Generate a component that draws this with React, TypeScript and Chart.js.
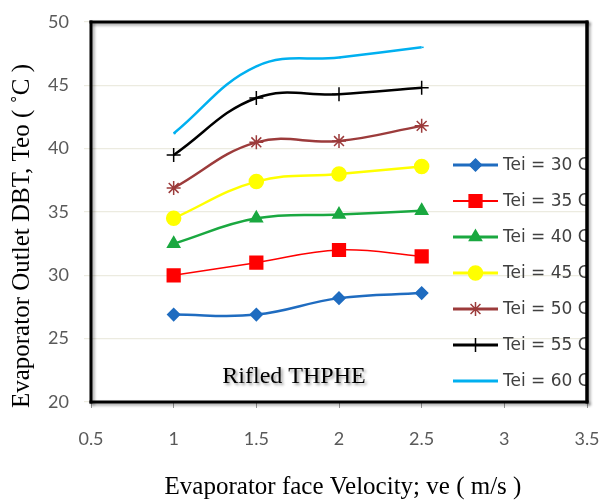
import React, { useEffect, useRef } from "react";
import { Chart, registerables } from "chart.js";
import { drawPoint } from "chart.js/helpers";

Chart.register(...registerables);

const velocities = [1, 1.5, 2, 2.5];
const seriesLabels = ["Tei = 30 C", "Tei = 35 C", "Tei = 40 C", "Tei = 45 C", "Tei = 50 C", "Tei = 55 C", "Tei = 60 C"];
const tei30 = [26.9, 26.9, 28.2, 28.6];
const tei35 = [30.0, 31.0, 32.0, 31.5];
const tei40 = [32.5, 34.5, 34.8, 35.1];
const tei45 = [34.5, 37.4, 38.0, 38.6];
const tei50 = [36.9, 40.5, 40.6, 41.8];
const tei55 = [39.5, 44.0, 44.3, 44.8];
const tei60 = [41.2, 46.5, 47.2, 48.0];
const seriesValues = [tei30, tei35, tei40, tei45, tei50, tei55, tei60];

const colors = ["#1f6cc0", "#ff0000", "#1aa840", "#ffff00", "#9c3b3b", "#000000", "#00b0f0"];
const pointStyles = ["rectRot", "rect", "triangle", "circle", "star", "cross", "dash"];
const pointRadii = [6, 9, 7, 7, 7, 7, 2];
const lineWidths = [2.5, 1.5, 2.5, 2.5, 2.5, 2.5, 2.5];

const xTitle = "Evaporator face Velocity; ve ( m/s )";
const yTitle = "Evaporator Outlet DBT, Teo ( \u02DAC )";
const annotation = "Rifled THPHE";

const decorPlugin = {
  id: "decor",
  beforeDatasetsDraw(chart: any) {
    const { ctx } = chart;
    ctx.save();
    ctx.font = "24px 'Liberation Serif', serif";
    ctx.fillStyle = "#000";
    ctx.textAlign = "center";
    ctx.textBaseline = "middle";
    ctx.shadowColor = "rgba(0,0,0,0.4)";
    ctx.shadowBlur = 3;
    ctx.shadowOffsetX = 2;
    ctx.shadowOffsetY = 2;
    ctx.fillText(annotation, 294, 377);
    ctx.restore();

    ctx.save();
    ctx.font = "25px 'Liberation Serif', serif";
    ctx.fillStyle = "#000";
    ctx.textAlign = "center";
    ctx.textBaseline = "middle";
    ctx.fillText(xTitle, 343, 487);
    ctx.translate(22, 236);
    ctx.rotate(-Math.PI / 2);
    ctx.fillText(yTitle, 0, 0);
    ctx.restore();
  },
  afterDraw(chart: any) {
    const { ctx, chartArea: a } = chart;
    const xs = chart.scales.x;
    const ys = chart.scales.y;
    let L = xs.getPixelForValue(0.5);
    let R = xs.getPixelForValue(3.5);
    let T = ys.getPixelForValue(50);
    let B = ys.getPixelForValue(20);
    if (!isFinite(L)) L = a.left;
    if (!isFinite(R)) R = a.right;
    if (!isFinite(T)) T = a.top;
    if (!isFinite(B)) B = a.bottom;
    L = Math.round(L);
    R = Math.round(R);
    T = Math.round(T);
    B = Math.round(B);

    // legend
    ctx.save();
    ctx.beginPath();
    ctx.rect(0, 0, R - 1, 504);
    ctx.clip();
    const x0 = 453;
    const x1 = 498;
    const startY = 165;
    const step = 36;
    seriesLabels.forEach((lab, i) => {
      const y = startY + i * step;
      ctx.strokeStyle = colors[i];
      ctx.lineWidth = lineWidths[i] + 0.5;
      ctx.beginPath();
      ctx.moveTo(x0, y);
      ctx.lineTo(x1, y);
      ctx.stroke();
      ctx.fillStyle = colors[i];
      ctx.strokeStyle = colors[i];
      ctx.lineWidth = 1.5;
      if (i < 6) {
        drawPoint(ctx, { pointStyle: pointStyles[i], radius: pointRadii[i], rotation: 0, borderWidth: 1.5 } as any, (x0 + x1) / 2, y);
      }
      ctx.fillStyle = "#404040";
      ctx.font = "17px 'DejaVu Sans', sans-serif";
      ctx.textAlign = "left";
      ctx.textBaseline = "middle";
      ctx.fillText(lab, 503, y + 1);
    });
    ctx.restore();

    // plot border
    ctx.save();
    ctx.shadowColor = "rgba(0,0,0,0.35)";
    ctx.shadowBlur = 3;
    ctx.shadowOffsetX = 2;
    ctx.shadowOffsetY = 2;
    ctx.fillStyle = "#000";
    const w = 3;
    ctx.fillRect(L - 1.5, T - 1.5, R - L + w, w);
    ctx.fillRect(L - 1.5, B - 1.5, R - L + w, w);
    ctx.fillRect(L - 1.5, T - 1.5, w, B - T + w);
    ctx.fillRect(R - 1.5, T - 1.5, w, B - T + w);
    ctx.restore();
    ctx.save();
    ctx.strokeStyle = "#000";
    ctx.lineWidth = 3;
    ctx.beginPath();
    ctx.moveTo(R, T);
    ctx.lineTo(R, B);
    ctx.stroke();
    ctx.restore();
  },
};

export default function App() {
  const ref = useRef<HTMLCanvasElement>(null);
  useEffect(() => {
    const datasets = seriesValues.map((vals, i) => ({
      label: seriesLabels[i],
      data: vals.map((v, j) => ({ x: velocities[j], y: v })),
      borderColor: colors[i],
      backgroundColor: colors[i],
      borderWidth: lineWidths[i],
      pointStyle: pointStyles[i],
      pointRadius: pointRadii[i],
      pointBorderWidth: 1.5,
      tension: 0.4,
      fill: false,
    }));
    const chart = new Chart(ref.current!, {
      type: "line",
      data: { datasets },
      plugins: [decorPlugin],
      options: {
        animation: false,
        responsive: false,
        layout: { padding: { top: 22, right: 22, left: 0, bottom: 0 } },
        plugins: { legend: { display: false }, tooltip: { enabled: false } },
        scales: {
          x: {
            type: "linear",
            min: 0.5,
            max: 3.5,
            ticks: {
              stepSize: 0.5,
              padding: 20,
              color: "#595959",
              font: { family: "Lato", size: 18 },
              callback: (v: any) => String(Number(v)),
            },
            grid: { drawOnChartArea: false, tickLength: 6, color: "#999" },
            border: { display: false },
            afterFit: (s: any) => {
              s.height = 102;
              s.paddingLeft = 0;
              s.paddingRight = 0;
            },
          },
          y: {
            min: 20,
            max: 50,
            ticks: { stepSize: 5, padding: 15, color: "#595959", font: { family: "Lato", size: 18 } },
            grid: { color: "#ecebe0", tickLength: 7, lineWidth: 1.2 },
            border: { display: false },
            afterFit: (s: any) => {
              s.width = 91;
              s.paddingTop = 0;
              s.paddingBottom = 0;
            },
          },
        },
      },
    } as any);
    return () => chart.destroy();
  }, []);
  return (
    <canvas
      ref={ref}
      width={609}
      height={504}
      style={{ position: "fixed", left: 0, top: 0, width: 609, height: 504, background: "#fff" }}
    />
  );
}
